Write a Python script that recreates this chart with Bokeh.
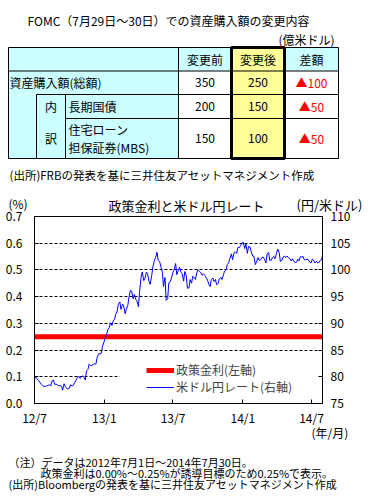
import pandas as pd
from bokeh.plotting import figure
from bokeh.layouts import column
from bokeh.models import (Range1d, LinearAxis, FixedTicker, Legend, LegendItem,
                          BoxAnnotation, CustomJSTickFormatter, NumeralTickFormatter,
                          ColumnDataSource)
from bokeh.embed import file_html
from bokeh.resources import INLINE
from bokeh.core.properties import value

FONT = "Noto Sans CJK JP"

# ---------------- table data ----------------
table_title = "FOMC（7月29日～30日）での資産購入額の変更内容"
unit_label = "(億米ドル)"
col_headers = ["変更前", "変更後", "差額"]
row_labels = [["資産購入額(総額)"], ["長期国債"], ["住宅ローン", "担保証券(MBS)"]]
breakdown_label = ["内", "訳"]
before = [350, 200, 150]
after = [250, 150, 100]
diff = [-100, -50, -50]
table_note = "(出所)FRBの発表を基に三井住友アセットマネジメント作成"

# ---------------- chart data ----------------
chart_title = "政策金利と米ドル円レート"
policy_dates = ["2012-07-01", "2014-07-30"]
policy_rate = [0.25, 0.25]

usdjpy_dates = [
    "2012-07-02", "2012-07-05", "2012-07-09", "2012-07-12", "2012-07-16", "2012-07-19", "2012-07-23", "2012-07-26", "2012-07-30",
    "2012-08-02", "2012-08-06", "2012-08-09", "2012-08-13", "2012-08-16", "2012-08-20", "2012-08-23", "2012-08-27", "2012-08-30",
    "2012-09-03", "2012-09-06", "2012-09-10", "2012-09-13", "2012-09-17", "2012-09-20", "2012-09-24", "2012-09-27",
    "2012-10-01", "2012-10-04", "2012-10-08", "2012-10-11", "2012-10-15", "2012-10-18", "2012-10-22", "2012-10-25", "2012-10-29",
    "2012-11-01", "2012-11-05", "2012-11-08", "2012-11-12", "2012-11-15", "2012-11-19", "2012-11-22", "2012-11-26", "2012-11-29",
    "2012-12-03", "2012-12-06", "2012-12-10", "2012-12-13", "2012-12-17", "2012-12-20", "2012-12-24", "2012-12-27", "2012-12-31",
    "2013-01-03", "2013-01-07", "2013-01-10", "2013-01-14", "2013-01-17", "2013-01-21", "2013-01-24", "2013-01-28", "2013-01-31",
    "2013-02-04", "2013-02-07", "2013-02-11", "2013-02-14", "2013-02-18", "2013-02-21", "2013-02-25", "2013-02-28",
    "2013-03-04", "2013-03-07", "2013-03-11", "2013-03-14", "2013-03-18", "2013-03-21", "2013-03-25", "2013-03-28",
    "2013-04-01", "2013-04-04", "2013-04-08", "2013-04-11", "2013-04-15", "2013-04-18", "2013-04-22", "2013-04-25", "2013-04-29",
    "2013-05-02", "2013-05-06", "2013-05-09", "2013-05-13", "2013-05-16", "2013-05-20", "2013-05-23", "2013-05-27", "2013-05-30",
    "2013-06-03", "2013-06-06", "2013-06-10", "2013-06-13", "2013-06-17", "2013-06-20", "2013-06-24", "2013-06-27",
    "2013-07-01", "2013-07-04", "2013-07-08", "2013-07-11", "2013-07-15", "2013-07-18", "2013-07-22", "2013-07-25", "2013-07-29",
    "2013-08-01", "2013-08-05", "2013-08-08", "2013-08-12", "2013-08-15", "2013-08-19", "2013-08-22", "2013-08-26", "2013-08-29",
    "2013-09-02", "2013-09-05", "2013-09-09", "2013-09-12", "2013-09-16", "2013-09-19", "2013-09-23", "2013-09-26", "2013-09-30",
    "2013-10-03", "2013-10-07", "2013-10-10", "2013-10-14", "2013-10-17", "2013-10-21", "2013-10-24", "2013-10-28", "2013-10-31",
    "2013-11-04", "2013-11-07", "2013-11-11", "2013-11-14", "2013-11-18", "2013-11-21", "2013-11-25", "2013-11-28",
    "2013-12-02", "2013-12-05", "2013-12-09", "2013-12-12", "2013-12-16", "2013-12-19", "2013-12-23", "2013-12-26", "2013-12-30",
    "2014-01-02", "2014-01-06", "2014-01-09", "2014-01-13", "2014-01-16", "2014-01-20", "2014-01-23", "2014-01-27", "2014-01-30",
    "2014-02-03", "2014-02-06", "2014-02-10", "2014-02-13", "2014-02-17", "2014-02-20", "2014-02-24", "2014-02-27",
    "2014-03-03", "2014-03-06", "2014-03-10", "2014-03-13", "2014-03-17", "2014-03-20", "2014-03-24", "2014-03-27", "2014-03-31",
    "2014-04-03", "2014-04-07", "2014-04-10", "2014-04-14", "2014-04-17", "2014-04-21", "2014-04-24", "2014-04-28",
    "2014-05-01", "2014-05-05", "2014-05-08", "2014-05-12", "2014-05-15", "2014-05-19", "2014-05-22", "2014-05-26", "2014-05-29",
    "2014-06-02", "2014-06-05", "2014-06-09", "2014-06-12", "2014-06-16", "2014-06-19", "2014-06-23", "2014-06-26", "2014-06-30",
    "2014-07-03", "2014-07-07", "2014-07-10", "2014-07-14", "2014-07-17", "2014-07-21", "2014-07-24", "2014-07-28", "2014-07-30",
]
usdjpy_values = [
    79.7, 79.9, 79.5, 79.3, 78.9, 78.6, 78.3, 78.2, 78.2,
    78.3, 78.4, 78.5, 78.3, 79.2, 79.4, 78.6, 78.6, 78.5,
    78.3, 78.4, 78.2, 77.5, 78.7, 78.2, 77.8, 77.7,
    77.9, 78.5, 78.3, 78.4, 78.9, 79.3, 79.9, 80.1, 79.7,
    79.9, 80.2, 79.9, 79.4, 81.1, 81.4, 82.4, 82.1, 82.1,
    82.3, 82.4, 82.4, 83.6, 84.3, 84.3, 84.4, 85.6, 86.5,
    87.2, 87.9, 88.8, 89.2, 90.1, 89.6, 90.4, 90.8, 91.7,
    92.3, 93.6, 94.0, 92.6, 93.6, 93.3, 91.8, 92.6,
    93.4, 94.9, 96.2, 96.0, 94.6, 95.4, 94.5, 94.2,
    93.1, 96.0, 98.7, 99.6, 98.0, 98.4, 99.6, 99.3, 97.8,
    97.3, 99.0, 100.6, 101.8, 102.3, 103.3, 101.8, 101.5, 100.7,
    99.5, 96.9, 98.6, 94.3, 94.6, 97.6, 97.8, 98.5,
    99.6, 100.0, 101.2, 99.1, 99.9, 100.5, 99.6, 99.3, 97.9,
    99.7, 98.9, 96.6, 96.6, 98.2, 97.5, 98.8, 98.6, 98.2,
    99.5, 100.0, 99.7, 99.5, 99.0, 99.3, 99.0, 98.6, 98.1,
    97.4, 96.9, 98.2, 98.5, 97.8, 98.2, 97.2, 97.5, 98.3,
    98.6, 98.2, 99.1, 99.8, 100.0, 101.0, 101.4, 102.2,
    103.0, 101.9, 103.2, 103.4, 103.1, 104.2, 104.2, 104.6, 105.0,
    105.2, 104.0, 105.0, 103.1, 104.4, 104.3, 103.4, 102.6, 102.6,
    101.0, 101.5, 102.3, 101.8, 101.9, 102.3, 102.4, 102.0,
    101.3, 103.0, 103.3, 101.8, 101.8, 102.3, 102.5, 102.1, 103.2,
    103.9, 103.2, 101.6, 101.8, 102.4, 102.6, 102.3, 102.6,
    102.3, 102.1, 101.7, 102.1, 101.6, 101.4, 101.4, 102.0, 101.7,
    102.5, 102.4, 102.5, 101.9, 101.9, 102.0, 101.9, 101.5, 101.3,
    102.0, 101.8, 101.3, 101.6, 101.3, 101.4, 101.8, 101.9, 102.8,
]
assert len(usdjpy_dates) == len(usdjpy_values)

left_ticks = [0.0, 0.1, 0.2, 0.3, 0.4, 0.5, 0.6, 0.7]
right_ticks = [75, 80, 85, 90, 95, 100, 105, 110]
x_tick_dates = ["2012-07-01", "2013-01-01", "2013-07-01", "2014-01-01", "2014-07-01"]
x_start, x_end = "2012-07-01", "2014-07-30"

legend_labels = ["政策金利(左軸)", "米ドル円レート(右軸)"]
left_unit = "(%)"
right_unit = "(円/米ドル)"
x_unit = "(年/月)"
notes = [
    "（注）データは2012年7月1日～2014年7月30日。",
    "政策金利は0.00%～0.25%が誘導目標のため0.25%で表示。",
    "(出所)Bloombergの発表を基に三井住友アセットマネジメント作成",
]

CYAN = "#CCFFFF"
YELLOW = "#FFFF99"
RED = "#FF0000"
BLUE = "#0000FF"

W = 392
PAGE_H = 504
TOP_END = 214                  # table figure: page y 0..214
CH_START, CH_END = 204, 428    # chart figure (overlaps the neighbours, transparent borders)
BOT_START = 421                # notes figure: page y 421..504
FX0, FX1, FY0, FY1 = 34, 322, 216, 404     # chart frame edges (page px)


def blank_fig(y0, y1, **kw):
    f = figure(width=W, height=y1 - y0, x_range=Range1d(0, W), y_range=Range1d(y1, y0),
               toolbar_location=None, output_backend="svg", min_border=0,
               x_axis_type=None, y_axis_type=None, frame_align=False, **kw)
    f.grid.visible = False
    f.outline_line_color = None
    f.border_fill_alpha = 0
    f.background_fill_alpha = 0
    return f


def txt(f, xs, ys, texts, color="black", align="left", size="12px"):
    f.text(x=xs, y=ys, text=texts, text_color=color, text_align=align,
           text_baseline="middle", text_font=value(FONT), text_font_size=size)


# ================= top figure: table + chart headings =================
top = blank_fig(0, TOP_END)

cx = [8, 36, 65, 178, 231, 284, 338]     # column edges (px)
ry = [47, 70.5, 94, 118, 158]            # row edges (px)


def cells(lst, color):
    top.quad(left=[c[0] for c in lst], right=[c[1] for c in lst],
             top=[c[2] for c in lst], bottom=[c[3] for c in lst],
             fill_color=color, line_color=None)


cells([(cx[0], cx[3], ry[0], ry[1]), (cx[3], cx[4], ry[0], ry[1]), (cx[5], cx[6], ry[0], ry[1]),
       (cx[0], cx[3], ry[1], ry[2]), (cx[0], cx[1], ry[2], ry[4]), (cx[1], cx[2], ry[2], ry[4]),
       (cx[2], cx[3], ry[2], ry[3]), (cx[2], cx[3], ry[3], ry[4])], CYAN)
cells([(cx[3], cx[4], ry[1], ry[4]), (cx[5], cx[6], ry[1], ry[4])], "white")
cells([(cx[4], cx[5], ry[0], ry[4])], YELLOW)

hx0 = [cx[0], cx[0], cx[1], cx[2], cx[0]]
hy = [ry[0], ry[1], ry[2], ry[3], ry[4]]
top.segment(x0=hx0, x1=[cx[6]] * 5, y0=hy, y1=hy, line_color="black", line_width=1)
vx = [cx[0], cx[1], cx[2], cx[3], cx[6]]
vy0 = [ry[0], ry[2], ry[2], ry[0], ry[0]]
top.segment(x0=vx, x1=vx, y0=vy0, y1=[ry[4]] * 5, line_color="black", line_width=1)
top.quad(left=[cx[4]], right=[cx[5]], top=[ry[0]], bottom=[ry[4]],
         fill_color=None, line_color="black", line_width=3)

txt(top, [27], [20], [table_title], size="12px")
txt(top, [334], [39], [unit_label], align="right")
centers = [(cx[3] + cx[4]) / 2, (cx[4] + cx[5]) / 2, (cx[5] + cx[6]) / 2]
txt(top, centers, [(ry[0] + ry[1]) / 2] * 3, col_headers, align="center")
row_mid = [(ry[1] + ry[2]) / 2, (ry[2] + ry[3]) / 2, (ry[3] + ry[4]) / 2]
txt(top, [centers[0]] * 3, row_mid, [str(v) for v in before], align="center")
txt(top, [centers[1]] * 3, row_mid, [str(v) for v in after], align="center")
txt(top, [centers[2]] * 3, row_mid, ["▲" + str(abs(v)) for v in diff], color=RED, align="center")
txt(top, [9], [row_mid[0]], row_labels[0])
txt(top, [68], [row_mid[1]], row_labels[1])
txt(top, [68, 68], [row_mid[2] - 9, row_mid[2] + 9], row_labels[2])
txt(top, [(cx[1] + cx[2]) / 2] * 2, [row_mid[1], row_mid[2]], breakdown_label, align="center")
txt(top, [9], [174], [table_note], size="11.5px")

# chart headings
txt(top, [8], [203], [left_unit])
txt(top, [186], [204.5], [chart_title], align="center", size="13px")
txt(top, [296], [203.5], [right_unit], size="13px")

# ================= chart figure =================
X0 = pd.Timestamp(x_start)
X1 = pd.Timestamp(x_end)
p = figure(width=W, height=CH_END - CH_START, x_axis_type="datetime",
           x_range=Range1d(X0.to_pydatetime(), X1.to_pydatetime()),
           y_range=Range1d(left_ticks[0], left_ticks[-1]),
           toolbar_location=None, output_backend="svg", frame_align=False,
           min_border_left=FX0, min_border_right=W - FX1,
           min_border_top=FY0 - CH_START, min_border_bottom=CH_END - FY1,
           margin=(CH_START - TOP_END, 0, 0, 0))
p.border_fill_alpha = 0
p.extra_y_ranges = {"yen": Range1d(right_ticks[0], right_ticks[-1])}
p.outline_line_color = "black"
p.outline_line_alpha = 1
p.xgrid.visible = False
p.ygrid.ticker = FixedTicker(ticks=left_ticks[1:-1])
p.ygrid.grid_line_color = "black"
p.ygrid.grid_line_dash = "3 2"
p.ygrid.grid_line_width = 1

t0 = X0.value / 1e6
t1 = X1.value / 1e6


def page_to_data(px, py):
    return (t0 + (px - FX0) / (FX1 - FX0) * (t1 - t0),
            (FY1 - py) / (FY1 - FY0) * left_ticks[-1])


# white area behind the legend (hides the gridline there)
bx0, by0 = page_to_data(119, 372)
bx1, by1 = page_to_data(FX1, 382)
p.add_layout(BoxAnnotation(left=bx0, right=bx1, top=by0, bottom=by1,
                           fill_color="white", fill_alpha=1, line_alpha=0, level="underlay"))

r_red = p.line(x=pd.to_datetime(policy_dates), y=policy_rate, line_color=RED, line_width=5)
src = ColumnDataSource(dict(x=pd.to_datetime(usdjpy_dates), y=usdjpy_values))
r_blue = p.line(x="x", y="y", source=src, line_color=BLUE, line_width=1, y_range_name="yen")


def style_axis(ax):
    ax.axis_line_color = "black"
    ax.major_tick_line_color = "black"
    ax.major_tick_in = 4
    ax.major_tick_out = 0
    ax.minor_tick_line_color = None
    ax.major_label_text_font = FONT
    ax.major_label_text_font_size = "12px"
    ax.major_label_text_color = "black"


yl = p.yaxis[0]
yl.ticker = FixedTicker(ticks=left_ticks)
yl.formatter = NumeralTickFormatter(format="0.0")
style_axis(yl)
yl.major_label_standoff = 12

yr = LinearAxis(y_range_name="yen", ticker=FixedTicker(ticks=right_ticks))
style_axis(yr)
yr.major_label_standoff = 8
p.add_layout(yr, "right")

xa = p.xaxis[0]
xa.ticker = FixedTicker(ticks=[pd.Timestamp(d).value / 1e6 for d in x_tick_dates])
xa.formatter = CustomJSTickFormatter(code="""
    const d = new Date(tick);
    return String(d.getUTCFullYear() % 100) + "/" + String(d.getUTCMonth() + 1);
""")
style_axis(xa)
xa.major_label_standoff = 5

legend = Legend(items=[LegendItem(label=legend_labels[0], renderers=[r_red]),
                       LegendItem(label=legend_labels[1], renderers=[r_blue])],
                location=(112, 8), orientation="vertical")
legend.glyph_width = 28
legend.glyph_height = 16
legend.label_height = 16
legend.label_standoff = 2
legend.padding = 0
legend.margin = 0
legend.spacing = 0
legend.background_fill_alpha = 0
legend.border_line_alpha = 0
legend.label_text_font = FONT
legend.label_text_font_size = "12px"
p.add_layout(legend)

# ================= bottom figure: unit and notes =================
bot = blank_fig(BOT_START, PAGE_H, margin=(BOT_START - CH_END, 0, 0, 0))
txt(bot, [311], [432], [x_unit])
txt(bot, [8, 40, 8], [461.5, 472.5, 483], notes, size="11px")

layout = column(top, p, bot, spacing=0)
open("out.html", "w").write(file_html(layout, INLINE))
